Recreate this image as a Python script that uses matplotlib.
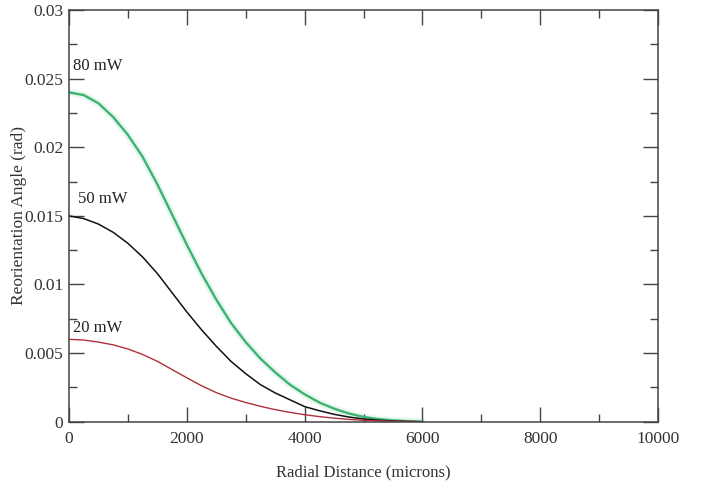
import matplotlib
matplotlib.use("Agg")
import matplotlib.pyplot as plt
from matplotlib.ticker import MultipleLocator, FixedLocator

# Radial distance (microns)
radius = [0, 250, 500, 750, 1000, 1250, 1500, 1750, 2000, 2250, 2500, 2750,
          3000, 3250, 3500, 3750, 4000, 4250, 4500, 4750, 5000, 5250, 5500,
          5750, 6000]

# Reorientation angle (rad) per pump power
angle_80mW = [0.0240, 0.0238, 0.0232, 0.0222, 0.0209, 0.0193, 0.0173, 0.0151,
              0.0129, 0.0108, 0.0089, 0.0072, 0.0058, 0.0046, 0.0036, 0.0027,
              0.0020, 0.00140, 0.00095, 0.00060, 0.00035, 0.00019, 0.0001,
              0.00004, 0.0]
angle_50mW = [0.0150, 0.0148, 0.0144, 0.0138, 0.0130, 0.0120, 0.0108, 0.0094,
              0.0080, 0.0067, 0.0055, 0.0044, 0.0035, 0.0027, 0.0021, 0.0016,
              0.0011, 0.00080, 0.00054, 0.00034, 0.0002, 0.00011, 0.00005,
              0.00002, 0.0]
angle_20mW = [0.0060, 0.00595, 0.0058, 0.0056, 0.0053, 0.0049, 0.0044, 0.0038,
              0.0032, 0.00262, 0.00212, 0.00172, 0.00140, 0.00112, 0.00088,
              0.00068, 0.00051, 0.00037, 0.00026, 0.00017, 0.0001, 0.00006,
              0.00003, 0.00001, 0.0]

labels = ["80 mW", "50 mW", "20 mW"]
label_x = [70, 150, 70]
label_y = [0.0259, 0.0162, 0.0068]
x_ticks = [0, 2000, 4000, 6000, 8000, 10000]
y_ticks = [0, 0.005, 0.01, 0.015, 0.02, 0.025, 0.03]
y_ticklabels = ["0", "0.005", "0.01", "0.015", "0.02", "0.025", "0.03"]

plt.rcParams['font.family'] = ['Liberation Serif', 'DejaVu Serif']

fig = plt.figure(figsize=(7.01, 4.82), dpi=100)
ax = fig.add_axes([0.0984, 0.1251, 0.8403, 0.8542])

# green curve with soft halo
ax.plot(radius, angle_80mW, color="#3cb878", lw=5.0, alpha=0.12, solid_capstyle="round")
ax.plot(radius, angle_80mW, color="#3cb371", lw=1.7)
ax.plot(radius, angle_50mW, color="#111111", lw=1.1)
ax.plot(radius, angle_20mW, color="#b0303c", lw=1.0)

for lx, ly, lab in zip(label_x, label_y, labels):
    ax.text(lx, ly, lab, fontsize=12, ha="left", va="center", color="#222222")

ax.set_xlim(0, 10000)
ax.set_ylim(0, 0.03)
ax.xaxis.set_major_locator(FixedLocator(x_ticks))
ax.xaxis.set_minor_locator(MultipleLocator(1000))
ax.yaxis.set_major_locator(FixedLocator(y_ticks))
ax.set_yticklabels(y_ticklabels)
ax.yaxis.set_minor_locator(MultipleLocator(0.0025))

for sp in ax.spines.values():
    sp.set_color("#444444")
    sp.set_linewidth(1.1)

ax.tick_params(which="both", direction="in", top=True, right=True,
               colors="#444444", labelcolor="#333333", labelsize=12.5)
ax.tick_params(which="major", length=11, width=1.0, pad=7)
ax.tick_params(which="minor", length=6, width=1.0)
ax.tick_params(axis="y", which="major", pad=4)

ax.set_xlabel("Radial Distance (microns)", fontsize=12, color="#333333", labelpad=12)
ax.set_ylabel("Reorientation Angle (rad)", fontsize=12.5, color="#333333")
ax.yaxis.set_label_coords(-0.071, 0.5)

fig.savefig("out.png", dpi=100, facecolor="white")
